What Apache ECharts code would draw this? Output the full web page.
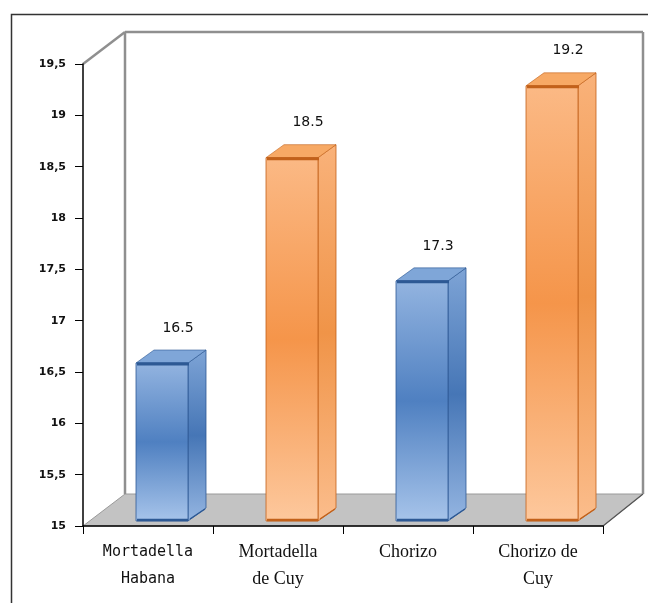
<!DOCTYPE html>
<html>
<head>
<meta charset="utf-8">
<script src="https://cdn.jsdelivr.net/npm/echarts@6/dist/echarts.min.js"></script>
<style>
html,body{margin:0;padding:0;background:#fff;}
#chart{width:648px;height:603px;}
</style>
</head>
<body>
<div id="chart"></div>
<script>
// ---- data ----
const categories = ['Mortadella\nHabana', 'Mortadella\nde Cuy', 'Chorizo', 'Chorizo de\nCuy'];
const values = [16.5, 18.5, 17.3, 19.2];
const yTicks = ['15', '15,5', '16', '16,5', '17', '17,5', '18', '18,5', '19', '19,5'];
const yMin = 15, yMax = 19.5, yStep = 0.5;

// ---- styles ----
const palettes = {
  blue: {front: ['#93b4e0', '#4f80c1', '#a7c4ea'], side: ['#7ea4d6', '#4676b6', '#94b5e1'], top: '#7fa6d8', dark: '#2d5994'},
  orange: {front: ['#fbb985', '#f5954a', '#fdc89d'], side: ['#f9b27a', '#f09448', '#fbbd8c'], top: '#f7a965', dark: '#c2611a'}
};
const barPal = ['blue', 'orange', 'blue', 'orange'];

const chart = echarts.init(document.getElementById('chart'), null, {renderer: 'canvas'});

function vgrad(c) {
  return new echarts.graphic.LinearGradient(0, 0, 0, 1, [
    {offset: 0, color: c[0]}, {offset: 0.5, color: c[1]}, {offset: 1, color: c[2]}
  ]);
}

const DX = 42, DY = -32;

function renderFrame(params, api) {
  const bw = api.size([1, 0])[0];
  const pL = api.coord([0, yMin]);
  const pR = api.coord([categories.length - 1, yMin]);
  const pT = api.coord([0, yMax]);
  const left = pL[0] - bw / 2, right = pR[0] + bw / 2;
  const yB = pL[1], yT = pT[1];
  const gs = {stroke: '#8f8f8f', lineWidth: 2.5, fill: null};
  return {
    type: 'group',
    children: [
      {type: 'polygon', shape: {points: [[left, yB], [left + DX, yB + DY], [right + DX - 2, yB + DY], [right, yB]]},
        style: {fill: '#c3c3c3', stroke: '#9a9a9a', lineWidth: 1}},
      {type: 'line', shape: {x1: right, y1: yB, x2: right + DX - 2, y2: yB + DY}, style: {stroke: '#555', lineWidth: 1.2}},
      {type: 'line', shape: {x1: left + DX, y1: yB + DY, x2: left + DX, y2: yT + DY}, style: gs},
      {type: 'line', shape: {x1: left + DX, y1: yT + DY, x2: right + DX - 2, y2: yT + DY}, style: gs},
      {type: 'line', shape: {x1: right + DX - 2, y1: yT + DY, x2: right + DX - 2, y2: yB + DY}, style: gs},
      {type: 'line', shape: {x1: left, y1: yT, x2: left + DX, y2: yT + DY}, style: gs}
    ]
  };
}

function renderBar(params, api) {
  const i = api.value(0), v = api.value(1);
  const pal = palettes[barPal[i]];
  const c = api.coord([i, v]);
  const b = api.coord([i, yMin]);
  const bw = api.size([1, 0])[0];
  const w = bw * 0.40;
  const cx = c[0] + 14;
  const x0 = cx - w / 2, x1 = cx + w / 2;
  const yT = c[1] - 9, yB = b[1] - 5;
  const dx = 18, dy = -13;
  return {
    type: 'group',
    children: [
      {type: 'polygon', shape: {points: [[x1, yT], [x1 + dx, yT + dy], [x1 + dx, yB + dy], [x1, yB]]},
        style: {fill: vgrad(pal.side), stroke: pal.dark, lineWidth: 0.8}},
      {type: 'polygon', shape: {points: [[x0, yT], [x0 + dx, yT + dy], [x1 + dx, yT + dy], [x1, yT]]},
        style: {fill: pal.top, stroke: pal.dark, lineWidth: 0.6}},
      {type: 'rect', shape: {x: x0, y: yT, width: w, height: yB - yT},
        style: {fill: vgrad(pal.front), stroke: pal.dark, lineWidth: 0.8}},
      {type: 'line', shape: {x1: x0 + 1, y1: yT + 1, x2: x1 + 1, y2: yT + 1}, style: {stroke: pal.dark, lineWidth: 3}},
      {type: 'line', shape: {x1: x0 + 1, y1: yB - 1, x2: x1, y2: yB - 1}, style: {stroke: pal.dark, lineWidth: 2.5}},
      {type: 'line', shape: {x1: x1 + 2, y1: yB - 2, x2: x1 + dx - 1, y2: yB + dy + 1}, style: {stroke: pal.dark, lineWidth: 1.5}},
      {type: 'text', x: cx + 16, y: yT - 35,
        style: {text: String(values[i]), fill: '#111', font: '14px "DejaVu Sans"', align: 'center', verticalAlign: 'middle'}}
    ]
  };
}

const option = {
  backgroundColor: '#fff',
  animation: false,
  graphic: [
    {type: 'rect', left: 9, top: 12, shape: {width: 700, height: 700}, style: {fill: null, stroke: '#333', lineWidth: 1.5}, z: -10}
  ],
  grid: {left: 83, top: 64, right: 45, bottom: 77},
  xAxis: {
    type: 'category',
    data: categories,
    boundaryGap: true,
    axisLine: {show: true, lineStyle: {color: '#000', width: 1.5}},
    axisTick: {show: true, length: 8, lineStyle: {color: '#000'}},
    axisLabel: {
      margin: 13,
      interval: 0,
      formatter: function (v, idx) {
        const tag = idx === 0 ? 's' : 'r';
        return v.split('\n').map(function (l) { return '{' + tag + '|' + l + '}'; }).join('\n');
      },
      rich: {
        s: {fontFamily: 'DejaVu Sans Mono', fontSize: 15, color: '#111', lineHeight: 27},
        r: {fontFamily: 'Liberation Serif', fontSize: 18, color: '#111', lineHeight: 27}
      }
    },
    z: 5
  },
  yAxis: {
    type: 'value',
    min: yMin, max: yMax, interval: yStep,
    axisLine: {show: true, lineStyle: {color: '#000', width: 1.5}},
    axisTick: {show: true, length: 8, lineStyle: {color: '#000'}},
    splitLine: {show: false},
    axisLabel: {
      margin: 17,
      color: '#111',
      fontFamily: 'DejaVu Sans',
      fontSize: 11,
      fontWeight: 'bold',
      formatter: function (v) { return yTicks[Math.round((v - yMin) / yStep)]; }
    },
    z: 5
  },
  series: [
    {type: 'custom', renderItem: renderFrame, data: [[0, yMin]], z: -1, silent: true, clip: false},
    {type: 'custom', renderItem: renderBar, data: values.map(function (v, i) { return [i, v]; }), z: 3, clip: false}
  ]
};
chart.setOption(option);
</script>
</body>
</html>
